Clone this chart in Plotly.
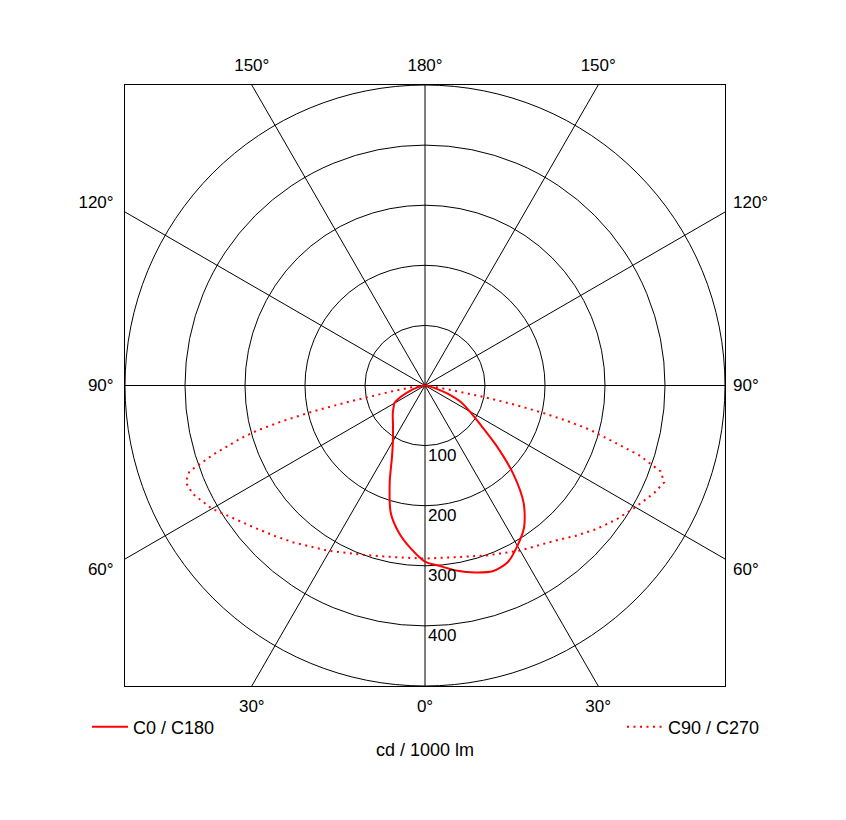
import numpy as np
import plotly.graph_objects as go

# luminous intensity (cd / 1000 lm) against gamma angle (deg)
GAMMA_C0 = [0, 5, 10, 15, 20, 25, 30, 35, 40, 45, 50, 55, 60, 65, 70, 75, 80, 85, 90]
C0 = [293, 302, 313, 322, 329, 325, 308, 288, 256, 208, 155, 112, 86, 67, 40, 17, 6, 2, 0]
C180 = [293, 272, 249, 220, 172, 130, 107, 93, 83, 76, 70, 64, 59, 45, 28, 14, 6, 2, 0]

GAMMA_C90 = [0, 10, 20, 30, 40, 45, 50, 55, 60, 65, 68, 70, 72, 74, 75, 76, 77, 78, 79, 80, 82.5, 85, 90]
C90 = [288, 290, 301, 317, 337, 354, 372, 389, 405, 422, 430, 418, 375, 310, 285, 245, 200, 150, 100, 50, 22, 8, 0]
GAMMA_C270 = [0, 10, 20, 30, 40, 45, 50, 55, 60, 65, 68, 70, 72, 74, 75, 76, 77, 78, 80, 82.5, 85, 90]
C270 = [288, 290, 300, 318, 341, 354, 369, 387, 410, 427, 430, 418, 370, 320, 290, 245, 190, 130, 55, 22, 8, 0]

RINGS = [100, 200, 300, 400, 500]
RING_LABELS = ["100", "200", "300", "400"]
SPOKE_ANGLES = [0, 30, 60, 90, 120, 150]
BOTTOM_LABELS = ["30°", "0°", "30°"]
TOP_LABELS = ["150°", "180°", "150°"]
SIDE_LABELS = ["60°", "90°", "120°"]

RMAX = 500
FONT = "Liberation Sans, Arial, sans-serif"


def to_xy(gamma, intensity, side):
    g = np.radians(np.asarray(gamma, dtype=float))
    i = np.asarray(intensity, dtype=float)
    return side * i * np.sin(g), -i * np.cos(g)


# one closed curve per plane pair: left half (C180 / C270) then right half (C0 / C90)
xl, yl = to_xy(GAMMA_C0, C180, -1)
xr, yr = to_xy(GAMMA_C0, C0, 1)
x_c0 = np.concatenate([xl[::-1], xr[1:]])
y_c0 = np.concatenate([yl[::-1], yr[1:]])

xl, yl = to_xy(GAMMA_C270, C270, -1)
xr, yr = to_xy(GAMMA_C90, C90, 1)
x_c90 = np.concatenate([xl[::-1], xr[1:]])
y_c90 = np.concatenate([yl[::-1], yr[1:]])

fig = go.Figure()

fig.add_trace(go.Scatter(
    x=x_c0, y=y_c0, mode="lines", name="C0 / C180",
    line=dict(color="#ff0000", width=2, shape="spline", smoothing=0.75),
    legend="legend",
))
# second curve sits on the overlaid top/right axes so their labels get drawn
fig.add_trace(go.Scatter(
    x=x_c90, y=y_c90, mode="lines", name="C90 / C270",
    line=dict(color="#ff0000", width=2, dash="2px,4.5px"),
    xaxis="x2", yaxis="y2", legend="legend2",
))

# polar grid: rings and spokes clipped to the square frame
for r in RINGS:
    fig.add_shape(type="circle", xref="x", yref="y", x0=-r, y0=-r, x1=r, y1=r,
                  line=dict(color="black", width=1), layer="below")
for a in SPOKE_ANGLES:
    t = np.radians(a)
    length = RMAX / max(abs(np.sin(t)), abs(np.cos(t)))
    dx, dy = length * np.sin(t), length * np.cos(t)
    fig.add_shape(type="line", xref="x", yref="y", x0=-dx, y0=-dy, x1=dx, y1=dy,
                  line=dict(color="black", width=1), layer="below")

for r, lab in zip(RINGS, RING_LABELS):
    fig.add_annotation(x=0, y=-r, text=lab, showarrow=False, xanchor="left", yanchor="top",
                       xshift=1, yshift=2, font=dict(size=17, color="black", family=FONT))

edge = RMAX * np.tan(np.radians(30))
side_pos = 305

fig.update_layout(
    width=846, height=820,
    margin=dict(l=117, r=129, t=77, b=142, autoexpand=False),
    paper_bgcolor="white", plot_bgcolor="white",
    font=dict(family=FONT, size=17, color="black"),
    xaxis=dict(
        range=[-RMAX, RMAX], showgrid=False, zeroline=False,
        showline=True, mirror=True, linecolor="black", linewidth=1,
        tickmode="array", tickvals=[-edge, 0, edge], ticktext=BOTTOM_LABELS,
        ticks="", ticklabelstandoff=5,
        title=dict(text="cd / 1000 lm", font=dict(size=18), standoff=27),
    ),
    yaxis=dict(
        range=[-RMAX, RMAX], showgrid=False, zeroline=False,
        showline=True, mirror=True, linecolor="black", linewidth=1,
        tickmode="array", tickvals=[-side_pos, 0, side_pos], ticktext=SIDE_LABELS,
        ticks="", ticklabelstandoff=7,
    ),
    xaxis2=dict(
        range=[-RMAX, RMAX], overlaying="x", side="top", anchor="y2",
        showgrid=False, zeroline=False, showline=False,
        tickmode="array", tickvals=[-edge, 0, edge], ticktext=TOP_LABELS,
        ticks="", ticklabelstandoff=10,
    ),
    yaxis2=dict(
        range=[-RMAX, RMAX], overlaying="y", side="right", anchor="x2",
        showgrid=False, zeroline=False, showline=False,
        tickmode="array", tickvals=[-side_pos, 0, side_pos], ticktext=SIDE_LABELS,
        ticks="", ticklabelstandoff=7,
    ),
    legend=dict(xref="container", yref="container", x=79 / 846, y=1 - 719 / 820,
                xanchor="left", yanchor="middle", font=dict(size=18),
                bgcolor="rgba(0,0,0,0)", itemwidth=36),
    legend2=dict(xref="container", yref="container", x=614 / 846, y=1 - 719 / 820,
                 xanchor="left", yanchor="middle", font=dict(size=18),
                 bgcolor="rgba(0,0,0,0)", itemwidth=36),
    showlegend=True,
)

fig.write_html("out.html")
